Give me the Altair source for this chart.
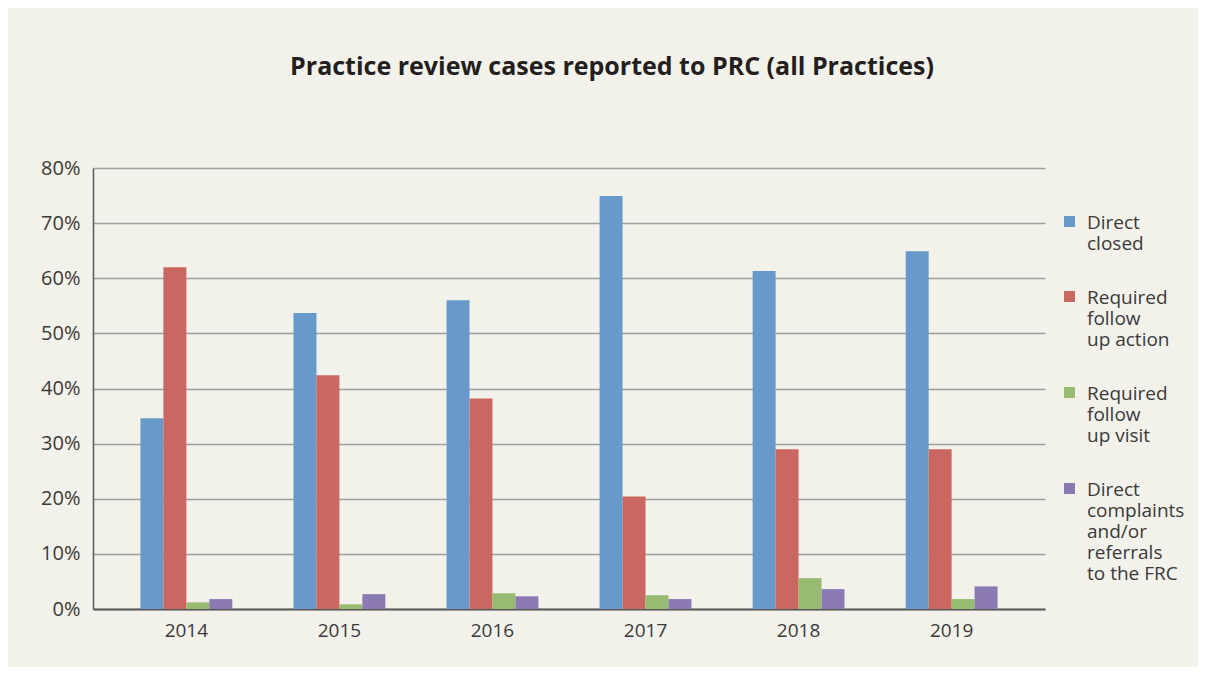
import altair as alt
import pandas as pd

years = ["2014", "2015", "2016", "2017", "2018", "2019"]
series = [
    "Direct|closed",
    "Required|follow|up action",
    "Required|follow|up visit",
    "Direct|complaints|and/or|referrals|to the FRC",
]
direct_closed = [34.6, 53.7, 56.0, 74.9, 61.3, 64.9]
follow_up_action = [62.0, 42.4, 38.2, 20.4, 29.0, 29.0]
follow_up_visit = [1.2, 0.85, 2.85, 2.5, 5.6, 1.8]
complaints_frc = [1.8, 2.7, 2.3, 1.8, 3.6, 4.1]
colors = ["#679aca", "#c96760", "#97bb71", "#8a7ab1"]
y_ticks = [0, 0.1, 0.2, 0.3, 0.4, 0.5, 0.6, 0.7, 0.8]

rows = []
for s, vals in zip(series, [direct_closed, follow_up_action, follow_up_visit, complaints_frc]):
    for y, v in zip(years, vals):
        rows.append({"year": y, "series": s, "value": v / 100})
df = pd.DataFrame(rows)

FONT = "Open Sans"
TXT = "#3a3a3a"

chart = alt.Chart(df).mark_bar().encode(
    x=alt.X(
        "year:N", sort=years,
        scale=alt.Scale(paddingInner=0.4, paddingOuter=0.31),
        axis=alt.Axis(title=None, labelAngle=0, ticks=False, grid=False,
                      domainColor="#5a5a5a", domainWidth=2, labelPadding=12,
                      labelFontSize=19, labelFont=FONT, labelColor=TXT),
    ),
    xOffset=alt.XOffset("series:N", sort=series,
                        scale=alt.Scale(paddingInner=0, paddingOuter=0)),
    y=alt.Y(
        "value:Q", scale=alt.Scale(domain=[0, 0.8]),
        axis=alt.Axis(title=None, values=y_ticks, format=".0%", ticks=False,
                      grid=True, gridColor="#9e9e9e", gridWidth=1.5,
                      domainColor="#5a5a5a", domainWidth=1.5, labelPadding=13,
                      labelFontSize=20, labelFont=FONT, labelColor=TXT),
    ),
    color=alt.Color(
        "series:N", sort=series,
        scale=alt.Scale(domain=series, range=colors),
        legend=alt.Legend(
            title=None, orient="none", legendX=967, legendY=36,
            symbolType="M-1,0.45H1V2.45H-1Z", symbolSize=121, symbolStrokeWidth=0,
            labelExpr="split(datum.label, '|')", labelBaseline="top",
            labelFontSize=19, labelFont=FONT, labelColor=TXT,
            labelLimit=400, labelOffset=8, rowPadding=25, padding=0,
        ),
    ),
).properties(
    width=952, height=441,
    autosize=alt.AutoSizeParams(type="none"),
    padding={"left": 85, "top": 160, "right": 153, "bottom": 58},
    background="#f2f1ea",
    title=alt.TitleParams(
        "Practice review cases reported to PRC (all Practices)",
        font=FONT, fontSize=25, fontWeight="bold", color="#231f20",
        anchor="middle", dx=43, offset=78,
    ),
).configure_view(stroke=None)

chart.save("out.html", embed_options={"renderer": "svg", "actions": False})
